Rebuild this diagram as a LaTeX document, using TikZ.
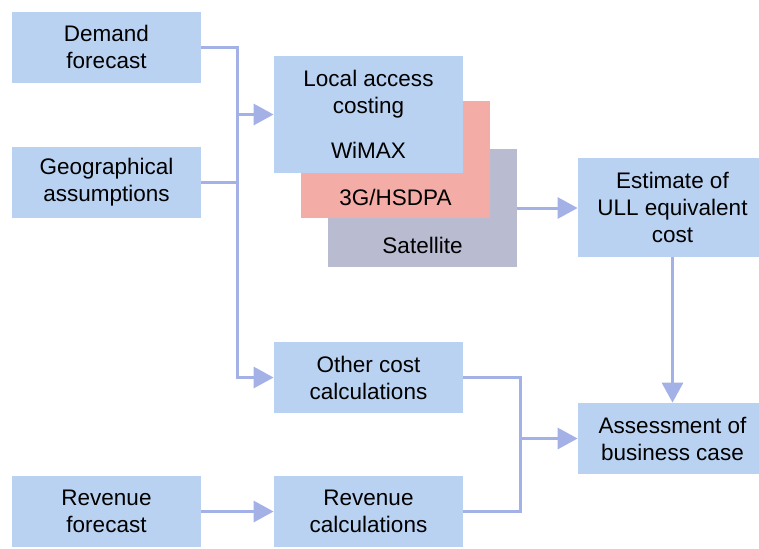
\documentclass[tikz,border=0pt]{standalone}
\usepackage{fontspec}
\setmainfont{Liberation Sans}
\usetikzlibrary{positioning,arrows.meta}
\definecolor{boxblue}{RGB}{185,210,241}
\definecolor{hsdpapink}{RGB}{244,172,167}
\definecolor{satgray}{RGB}{185,187,208}
\definecolor{linkblue}{RGB}{164,177,230}

\begin{document}
\begin{tikzpicture}[
    x=0.5pt, y=-0.5pt,
    box/.style={rectangle, fill=#1, minimum width=94.5pt, minimum height=35.5pt,
                inner sep=0pt, align=center,
                font=\fontsize{11.25pt}{13.5pt}\selectfont},
    box/.default=boxblue,
    tag/.style={inner sep=0pt, text depth=0pt,
                font=\fontsize{11.25pt}{13.5pt}\selectfont},
    line/.style={draw=linkblue, line width=1.5pt},
    arrow/.style={line, -{Triangle[length=10pt, width=10.5pt]}}
]
\path[fill=white] (0,0) rectangle (759,548);

% inputs on the left
\node[box] (demand) at (106.5,47) {Demand\\forecast};
\node[box] (geo) at (106.5,182) {Geographical\\assumptions};
\node[box] (revfc) at (106.5,511.5) {Revenue\\forecast};

% stacked access technologies
\node[box=satgray, minimum height=59pt] (sat) at (422.5,208) {};
\node[tag, above=7pt of sat.south] (satText) {Satellite};
\node[box=hsdpapink, minimum height=58.5pt] (hsdpa) at (395.5,159.5) {};
\node[tag, above=6.5pt of hsdpa.south] (hsdpaText) {3G/HSDPA};
\node[box, minimum height=58.5pt] (wimax) at (368.5,114.5) {Local access\\costing\\[9pt]WiMAX};

% middle and right column
\node[box] (other) at (368.5,377.5) {Other cost\\calculations};
\node[box] (revcalc) at (368.5,511.5) {Revenue\\calculations};
\node[box, minimum height=49.5pt] (ull) at (672.5,207.5) {Estimate of\\ULL equivalent\\cost};
\node[box] (assess) at (672.5,438.5) {Assessment of\\business case};

% junction points
\coordinate (j1) at (237,114.5);
\coordinate (j2) at (237,377.5);
\coordinate (j3) at (520,438.5);

\draw[arrow] (demand.east) -| (j2) -- (other.west);
\draw[line] (geo.east) -- (geo.east -| j1);
\draw[arrow] (j1) -- (wimax.west);
\draw[arrow] (sat.east) -- (sat.east -| ull.west);
\draw[arrow] (ull) -- (assess);
\draw[line] (other.east) -| (j3) |- (revcalc.east);
\draw[arrow] (j3) -- (assess.west);
\draw[arrow] (revfc) -- (revcalc);

% right column runs past the page edge
\pgfresetboundingbox
\useasboundingbox (0,0) rectangle (759,548);
\end{tikzpicture}
\end{document}
